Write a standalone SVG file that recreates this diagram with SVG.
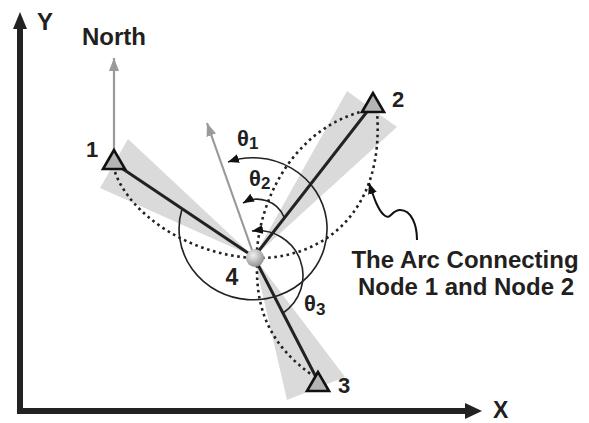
<svg xmlns="http://www.w3.org/2000/svg" width="589" height="423" viewBox="0 0 589 423">
  <defs>
    <style>
      .lbl { font-family: "Liberation Sans", Arial, sans-serif; font-weight: bold; fill: #231f20; }
      .wedge { fill: #dadada; stroke: none; }
      .link { stroke: #222; stroke-width: 3; fill: none; stroke-linecap: round; }
      .dots { stroke: #222; stroke-width: 2.6; fill: none; stroke-dasharray: 2.6 3.6; }
      .angle { stroke: #222; stroke-width: 1.6; fill: none; }
      .grayline { stroke: #9a9a9a; stroke-width: 2.2; fill: none; }
      .tri { fill: #b4b4b4; stroke: #111; stroke-width: 2.6; stroke-linejoin: miter; }
    </style>
    <marker id="grayArrow" markerUnits="userSpaceOnUse" markerWidth="14" markerHeight="10" refX="13" refY="5" orient="auto">
      <path d="M0,0 L13,5 L0,10 z" fill="#9a9a9a"/>
    </marker>
    <marker id="blackArrow" markerUnits="userSpaceOnUse" markerWidth="12" markerHeight="10" refX="11" refY="4.5" orient="auto">
      <path d="M0,0 L11,4.5 L0,9 z" fill="#111"/>
    </marker>
    <radialGradient id="ballGrad" cx="0.4" cy="0.35" r="0.7">
      <stop offset="0" stop-color="#f2f2f2"/>
      <stop offset="1" stop-color="#8c8c8c"/>
    </radialGradient>
  </defs>

  <g id="axes">
    <path d="M20,26 L20,411 L467,411" stroke="#222" stroke-width="6" fill="none" stroke-linejoin="miter"/>
    <polygon points="20,12 13,29 27,29" fill="#222"/>
    <polygon points="482,411 465,403 465,419" fill="#222"/>
    <text class="lbl" x="37" y="30" font-size="24">Y</text>
    <text class="lbl" x="493" y="418" font-size="23">X</text>
  </g>

  <g id="wedges">
    <polygon class="wedge" points="254,257 128,139 100,188"/>
    <polygon class="wedge" points="254,257 347,91 397,127"/>
    <polygon class="wedge" points="254,257 345,377 287,400"/>
  </g>

  <g id="connectors">
    <path class="dots" d="M115,172 C130,215 190,255 254,258 C320,260 385,215 377,112"/>
    <path class="dots" d="M257,250 C262,190 300,125 368,110"/>
    <path class="dots" d="M257,265 C256,310 270,345 312,375"/>
    <line class="link" x1="114" y1="163" x2="254" y2="257"/>
    <line class="link" x1="373" y1="104" x2="254" y2="257"/>
    <line class="link" x1="254" y1="257" x2="318" y2="381"/>
    <line class="grayline" x1="114" y1="150" x2="114" y2="58" marker-end="url(#grayArrow)"/>
    <line class="grayline" x1="252" y1="250" x2="207" y2="123" marker-end="url(#grayArrow)"/>
    <path class="angle" d="M182,209 A74,71 0 1 0 228,162" marker-end="url(#blackArrow)"/>
    <path class="angle" d="M284,217 A29,29 0 0 0 243,203" marker-end="url(#blackArrow)"/>
    <path class="angle" d="M283,313 A45,45 0 0 0 252,231" marker-end="url(#blackArrow)"/>
    <path d="M417,240 C417,226 412,210 400,210 C391,210 391,221 384,215 C378,210 374,198 369,183" stroke="#111" stroke-width="2" fill="none" marker-end="url(#blackArrow)"/>
  </g>

  <g id="node1">
    <polygon class="tri" points="114,150 103,169 125,169"/>
    <text class="lbl" x="92" y="157" font-size="22" text-anchor="middle">1</text>
  </g>
  <g id="node2">
    <polygon class="tri" points="373,93 362,112 384,112"/>
    <text class="lbl" x="398" y="107" font-size="22" text-anchor="middle">2</text>
  </g>
  <g id="node3">
    <polygon class="tri" points="318,372 307,391 329,391"/>
    <text class="lbl" x="344" y="393" font-size="22" text-anchor="middle">3</text>
  </g>
  <g id="node4">
    <circle cx="255" cy="258" r="9" fill="url(#ballGrad)"/>
    <text class="lbl" x="232" y="285" font-size="23" text-anchor="middle">4</text>
  </g>

  <g id="labels">
    <text class="lbl" x="114" y="45" font-size="24" text-anchor="middle">North</text>
    <text class="lbl" x="237" y="146" font-size="22">θ<tspan font-size="17" dy="3">1</tspan></text>
    <text class="lbl" x="249" y="186" font-size="22">θ<tspan font-size="17" dy="3">2</tspan></text>
    <text class="lbl" x="304" y="311" font-size="22">θ<tspan font-size="17" dy="4">3</tspan></text>
    <text class="lbl" x="465" y="268" font-size="24" text-anchor="middle">The Arc Connecting</text>
    <text class="lbl" x="466" y="295" font-size="24" text-anchor="middle">Node 1 and Node 2</text>
  </g>
</svg>
